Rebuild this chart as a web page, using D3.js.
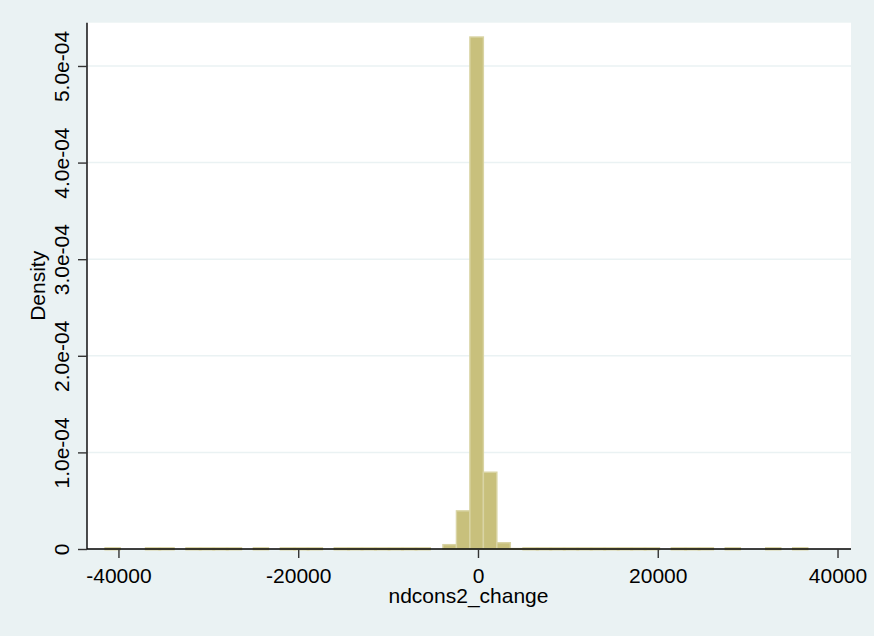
<!DOCTYPE html>
<html>
<head>
<meta charset="utf-8">
<script src="https://cdn.jsdelivr.net/npm/d3@7"></script>
<style>
  html, body { margin: 0; padding: 0; background: #eaf2f3; }
  svg { display: block; }
  text { font-family: "Liberation Sans", Arial, sans-serif; fill: #000; }
</style>
</head>
<body>
<svg id="chart" width="874" height="636"></svg>
<script>
// ---- data ----
const binStart = -41400;
const binWidth = 1500;
// density per bin (52 bins), tiny values are single/few observations
const densities = [
  4.5e-7, 0, 0, 4.5e-7, 4.5e-7, 0, 4.5e-7, 4.5e-7, 4.5e-7, 4.5e-7,
  0, 4.5e-7, 0, 4.5e-7, 4.5e-7, 4.5e-7, 0, 4.5e-7, 4.5e-7, 4.5e-7,
  4.5e-7, 4.5e-7, 4.5e-7, 4.5e-7, 0, 4.5e-6, 3.95e-5, 5.30e-4, 7.95e-5, 6.5e-6,
  2.0e-7, 4.5e-7, 4.5e-7, 4.5e-7, 4.5e-7, 4.5e-7, 4.5e-7, 4.5e-7, 4.5e-7, 4.5e-7,
  4.5e-7, 0, 4.5e-7, 4.5e-7, 4.5e-7, 0, 4.5e-7, 0, 0, 4.5e-7,
  0, 4.5e-7
];
const xTicks = [-40000, -20000, 0, 20000, 40000];
const xTickLabels = ["-40000", "-20000", "0", "20000", "40000"];
const yTicks = [0, 1e-4, 2e-4, 3e-4, 4e-4, 5e-4];
const yTickLabels = ["0", "1.0e-04", "2.0e-04", "3.0e-04", "4.0e-04", "5.0e-04"];
const xTitle = "ndcons2_change";
const yTitle = "Density";

// ---- layout ----
const svg = d3.select("#chart");
const plot = { left: 87, right: 851, top: 22.7, bottom: 549 };

const x = d3.scaleLinear().domain([-43500, 41500]).range([plot.left, plot.right]);
const y = d3.scaleLinear().domain([0, 5.448e-4]).range([plot.bottom, plot.top]);

// background
svg.append("rect").attr("width", 874).attr("height", 636).attr("fill", "#eaf2f3");
svg.append("rect")
  .attr("x", plot.left).attr("y", plot.top)
  .attr("width", plot.right - plot.left).attr("height", plot.bottom - plot.top)
  .attr("fill", "#ffffff");

// gridlines
svg.append("g").selectAll("line")
  .data(yTicks.filter(d => d > 0))
  .join("line")
  .attr("x1", plot.left).attr("x2", plot.right)
  .attr("y1", d => y(d)).attr("y2", d => y(d))
  .attr("stroke", "#eaf2f3").attr("stroke-width", 1.5);

// bars
const bins = densities.map((d, i) => ({ x0: binStart + i * binWidth, x1: binStart + (i + 1) * binWidth, d }));
const barsG = svg.append("g");

// axes
const xAxis = d3.axisBottom(x).tickValues(xTicks).tickFormat((d, i) => xTickLabels[i]).tickSize(9).tickPadding(5);
const gx = svg.append("g").attr("transform", `translate(0,${plot.bottom})`).call(xAxis);
gx.select(".domain").attr("d", `M${plot.left},0H${plot.right}`).attr("stroke", "#000").attr("stroke-width", 1.4);
gx.selectAll(".tick line").attr("stroke", "#333").attr("stroke-width", 1.4);
gx.selectAll(".tick text").attr("font-size", 21).attr("font-family", "Liberation Sans, Arial, sans-serif").attr("fill", "#000")
  .attr("dy", null).attr("y", 33.7);

const yAxis = d3.axisLeft(y).tickValues(yTicks).tickFormat((d, i) => yTickLabels[i]).tickSize(9);
const gy = svg.append("g").attr("transform", `translate(${plot.left},0)`).call(yAxis);
gy.select(".domain").attr("d", `M0,${plot.top}V${plot.bottom}`).attr("stroke", "#000").attr("stroke-width", 1.4);
gy.selectAll(".tick line").attr("stroke", "#333").attr("stroke-width", 1.4);
gy.selectAll(".tick text")
  .attr("font-size", 21).attr("font-family", "Liberation Sans, Arial, sans-serif").attr("fill", "#000")
  .attr("x", null).attr("dy", null)
  .attr("text-anchor", "middle")
  .attr("transform", "translate(-18,0) rotate(-90)");

// draw bars; tiny bars show as outlined strips across the axis line (drawn underneath it)
barsG.selectAll("rect")
  .data(bins.filter(b => b.d > 0))
  .join("rect")
  .attr("x", b => x(b.x0))
  .attr("width", b => x(b.x1) - x(b.x0))
  .attr("y", b => y(b.d))
  .attr("height", b => y(0) - y(b.d))
  .attr("fill", "#c8c07c")
  .attr("stroke", "#d9d4a4")
  .attr("stroke-width", b => (y(0) - y(b.d)) < 2 ? ((y(0) - y(b.d)) < 0.3 ? 2.0 : 3.0) : 1.4);

// titles
svg.append("text")
  .attr("x", (plot.left + plot.right) / 2 - 0.5).attr("y", 603.3)
  .attr("text-anchor", "middle").attr("font-size", 21)
  .text(xTitle);
svg.append("text")
  .attr("transform", `translate(45,${(plot.top + plot.bottom) / 2}) rotate(-90)`)
  .attr("text-anchor", "middle").attr("font-size", 21)
  .text(yTitle);
</script>
</body>
</html>
